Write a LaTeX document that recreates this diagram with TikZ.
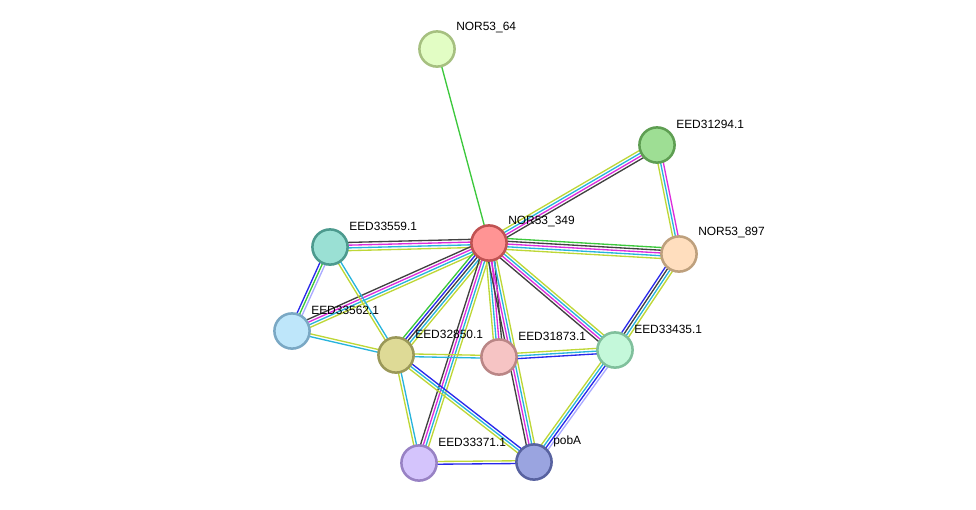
\documentclass[tikz,border=0pt]{standalone}
\usepackage{fontspec}
\setmainfont{Liberation Sans}
\usetikzlibrary{positioning, calc, backgrounds}

% evidence colours
\definecolor{evnbh}{RGB}{60,200,60}
\definecolor{evcooc}{RGB}{40,40,235}
\definecolor{evcoex}{RGB}{65,65,65}
\definecolor{evexp}{RGB}{220,45,220}
\definecolor{evdb}{RGB}{40,180,220}
\definecolor{evtxt}{RGB}{190,215,55}
\definecolor{evhom}{RGB}{170,170,255}

\tikzset{
    prot/.style={circle, draw, line width=1.8pt, minimum size=0.88cm, inner sep=0pt},
    lbl/.style={anchor=west, inner sep=0pt, font=\fontsize{8.5}{10}\selectfont},
    evline/.style={line width=0.95pt}
}

% one bundle of parallel evidence lines between two nodes
\newcommand{\evedge}[3]{%
    \foreach \c [count=\n] in {#3} {\xdef\ncol{\n}}
    \foreach \c [count=\i] in {#3} {
        \pgfmathsetmacro\off{((\ncol+1)/2-\i)*1.95}
        \draw[evline, \c] ($(#1)!\off pt!90:(#2)$) -- ($(#2)!\off pt!-90:(#1)$);
    }
}

\begin{document}
\begin{tikzpicture}[x=0.025cm, y=-0.025cm]
    \useasboundingbox (0,0) rectangle (976,509);

    \node (n64) [prot, fill={rgb,255:red,226;green,253;blue,196}, draw={rgb,255:red,166;green,192;blue,128}] at (437,49) {};
    \node (e31294) [prot, fill={rgb,255:red,158;green,222;blue,148}, draw={rgb,255:red,94;green,158;blue,82}] at (657,145) {};
    \node (n349) [prot, fill={rgb,255:red,255;green,148;blue,148}, draw={rgb,255:red,192;green,82;blue,82}] at (489,243) {};
    \node (n897) [prot, fill={rgb,255:red,255;green,222;blue,190}, draw={rgb,255:red,190;green,160;blue,125}] at (679,254) {};
    \node (e33559) [prot, fill={rgb,255:red,154;green,224;blue,212}, draw={rgb,255:red,76;green,154;blue,142}] at (330,247) {};
    \node (e33562) [prot, fill={rgb,255:red,190;green,230;blue,250}, draw={rgb,255:red,122;green,168;blue,196}] at (292,331) {};
    \node (e32850) [prot, fill={rgb,255:red,222;green,218;blue,150}, draw={rgb,255:red,154;green,152;blue,88}] at (396,355) {};
    \node (e31873) [prot, fill={rgb,255:red,246;green,196;blue,196}, draw={rgb,255:red,186;green,134;blue,134}] at (499,357) {};
    \node (e33435) [prot, fill={rgb,255:red,196;green,248;blue,218}, draw={rgb,255:red,128;green,192;blue,156}] at (615,350) {};
    \node (e33371) [prot, fill={rgb,255:red,212;green,196;blue,252}, draw={rgb,255:red,152;green,130;blue,196}] at (419,463) {};
    \node (pobA) [prot, fill={rgb,255:red,154;green,164;blue,224}, draw={rgb,255:red,88;green,98;blue,160}] at (534,462) {};

    \begin{scope}[on background layer]
        \evedge{n64}{n349}{evnbh}
        \evedge{n349}{e31294}{evtxt,evdb,evexp,evcoex}
        \evedge{e31294}{n897}{evexp,evdb,evtxt}
        \evedge{n349}{n897}{evnbh,evcoex,evexp,evdb,evtxt}
        \evedge{e33559}{n349}{evcoex,evexp,evdb,evtxt}
        \evedge{e33562}{n349}{evcoex,evexp,evdb,evtxt}
        \evedge{e32850}{n349}{evnbh,evcooc,evcoex,evdb,evtxt}
        \evedge{e33371}{n349}{evcoex,evexp,evdb,evtxt}
        \evedge{n349}{e31873}{evcoex,evexp,evdb,evtxt}
        \evedge{n349}{pobA}{evtxt,evdb,evexp,evcoex}
        \evedge{n349}{e33435}{evtxt,evdb,evexp,evcoex}
        \evedge{n897}{e33435}{evtxt,evdb,evcoex,evcooc}
        \evedge{e33559}{e33562}{evhom,evnbh,evcooc}
        \evedge{e33559}{e32850}{evdb,evtxt}
        \evedge{e33562}{e32850}{evtxt,evdb}
        \evedge{e32850}{e31873}{evtxt,evdb}
        \evedge{e31873}{e33435}{evtxt,evdb,evcooc}
        \evedge{e32850}{e33371}{evdb,evtxt}
        \evedge{e32850}{pobA}{evcooc,evdb,evtxt}
        \evedge{e33371}{pobA}{evtxt,evcooc}
        \evedge{e33435}{pobA}{evhom,evcooc,evdb,evtxt}
    \end{scope}

    \node (t64) [lbl] at ($(n64)+(19,-21)$) {NOR53\_64};
    \node (t31294) [lbl] at ($(e31294)+(19,-21)$) {EED31294.1};
    \node (t349) [lbl] at ($(n349)+(19,-21)$) {NOR53\_349};
    \node (t897) [lbl] at ($(n897)+(19,-21)$) {NOR53\_897};
    \node (t33559) [lbl] at ($(e33559)+(19,-21)$) {EED33559.1};
    \node (t33562) [lbl] at ($(e33562)+(19,-21)$) {EED33562.1};
    \node (t32850) [lbl] at ($(e32850)+(19,-21)$) {EED32850.1};
    \node (t31873) [lbl] at ($(e31873)+(19,-21)$) {EED31873.1};
    \node (t33435) [lbl] at ($(e33435)+(19,-21)$) {EED33435.1};
    \node (t33371) [lbl] at ($(e33371)+(19,-21)$) {EED33371.1};
    \node (tpobA) [lbl] at ($(pobA)+(19,-21)$) {pobA};

\end{tikzpicture}
\end{document}
